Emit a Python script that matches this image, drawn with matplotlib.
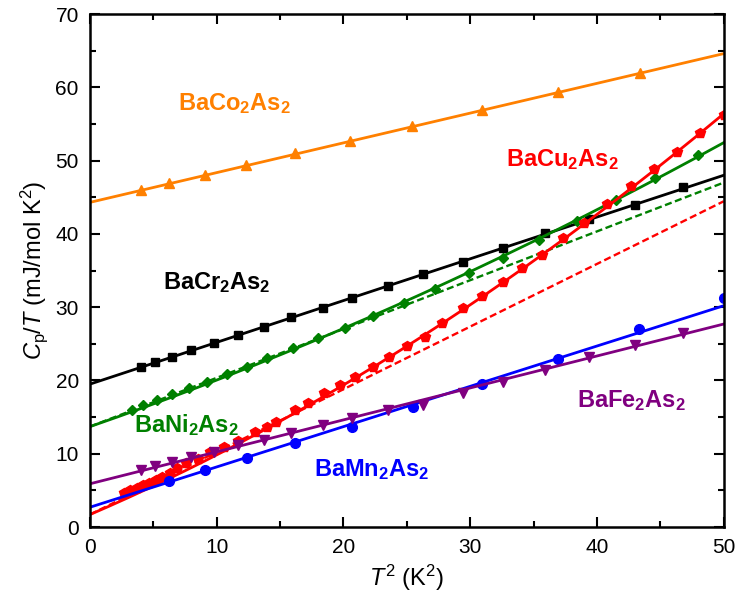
import numpy as np
import matplotlib.pyplot as plt
from matplotlib.ticker import MultipleLocator

plt.rcParams['font.family'] = ['Liberation Sans', 'DejaVu Sans']
plt.rcParams['mathtext.fontset'] = 'custom'
plt.rcParams['mathtext.rm'] = 'Liberation Sans'
plt.rcParams['mathtext.it'] = 'Liberation Sans:italic'
plt.rcParams['mathtext.bf'] = 'Liberation Sans:bold'

# data punten (T^2, Cp/T)
co_x = [4.0, 6.2, 9.1, 12.3, 16.2, 20.5, 25.4, 30.9, 36.9, 43.4]
co_y = [46.0, 47.0, 48.1, 49.4, 51.0, 52.7, 54.7, 56.9, 59.3, 61.9]

cr_x = [4.0, 5.1, 6.5, 8.0, 9.8, 11.7, 13.7, 15.9, 18.4, 20.7, 23.5, 26.3, 29.4, 32.6, 35.9, 39.4, 43.0, 46.8]
cr_y = [21.9, 22.5, 23.2, 24.1, 25.1, 26.2, 27.3, 28.6, 29.9, 31.3, 32.9, 34.5, 36.2, 38.1, 40.1, 42.0, 44.0, 46.4]

ni_x = [3.3, 4.2, 5.3, 6.5, 7.8, 9.2, 10.8, 12.4, 14.0, 16.0, 18.0, 20.1, 22.3, 24.8, 27.2, 29.9, 32.6, 35.4, 38.4, 41.5, 44.6, 48.0]
ni_y = [16.0, 16.7, 17.4, 18.2, 19.0, 19.8, 20.9, 21.9, 23.0, 24.4, 25.8, 27.2, 28.8, 30.6, 32.5, 34.6, 36.7, 39.1, 41.8, 44.6, 47.6, 50.7]

cu_x = [2.7, 3.2, 3.7, 4.2, 4.7, 5.2, 5.7, 6.3, 6.9, 7.6, 8.5, 9.5, 10.6, 11.7, 13.0, 14.0, 14.7, 16.2, 17.2,
        18.5, 19.7, 20.9, 22.3, 23.6, 25.0, 26.4, 27.8, 29.4, 30.9, 32.6, 34.1, 35.7, 37.3, 39.0, 40.8, 42.7,
        44.5, 46.3, 48.1, 50.0]
cu_y = [4.6, 5.0, 5.3, 5.7, 6.0, 6.4, 6.8, 7.4, 8.0, 8.7, 9.3, 10.2, 10.9, 11.7, 13.0, 13.7, 14.3, 16.0, 16.9,
        18.3, 19.4, 20.5, 21.9, 23.2, 24.7, 25.9, 27.8, 29.9, 31.5, 33.4, 35.3, 37.1, 39.4, 41.5, 44.1, 46.5,
        48.8, 51.2, 53.7, 56.2]

mn_x = [6.2, 9.1, 12.4, 16.2, 20.7, 25.5, 30.9, 36.9, 43.3, 50.0]
mn_y = [6.3, 7.8, 9.4, 11.5, 13.6, 16.4, 19.5, 22.9, 27.0, 31.3]

fe_x = [4.0, 5.1, 6.5, 8.0, 9.8, 11.7, 13.7, 15.9, 18.4, 20.7, 23.5, 26.3, 29.4, 32.6, 35.9, 39.4, 43.0, 46.8]
fe_y = [7.8, 8.3, 8.9, 9.5, 10.2, 11.2, 11.9, 12.8, 13.9, 14.9, 16.0, 16.6, 18.3, 19.8, 21.4, 23.2, 24.8, 26.5]

# fit parameters: gamma, beta, delta  (Cp/T = gamma + beta*T^2 + delta*T^4)
co_fit = [44.3, 0.406, 0.0]
cr_fit = [19.5, 0.570, 0.0]
ni_fit = [13.7, 0.600, 0.0035]
ni_lin = [13.7, 0.666, 0.0]
cu_fit = [1.7, 0.744, 0.0070]
cu_lin = [1.7, 0.855, 0.0]
mn_fit = [2.7, 0.550, 0.0]
fe_fit = [5.9, 0.436, 0.0]

c_co = '#ff8000'
c_cr = 'black'
c_ni = '#008000'
c_cu = '#ff0000'
c_mn = '#0000ff'
c_fe = '#800080'

def model(p, x):
    return p[0] + p[1] * x + p[2] * x ** 2

fig = plt.figure(figsize=(7.37, 6.10), dpi=100)
ax = fig.add_axes([0.122, 0.136, 0.860, 0.841])

xx = np.linspace(0, 50, 300)

ax.plot(xx, model(ni_lin, xx), '--', color=c_ni, lw=1.7, dashes=(3, 1.5))
ax.plot(xx, model(cu_lin, xx), '--', color=c_cu, lw=1.7, dashes=(3, 1.5))

# (x, y, fit, kleur, marker, grootte)
series = [
    (co_x, co_y, co_fit, c_co, '^', 6.5),
    (cr_x, cr_y, cr_fit, c_cr, 's', 6),
    (ni_x, ni_y, ni_fit, c_ni, 'D', 5.5),
    (cu_x, cu_y, cu_fit, c_cu, 'p', 7.5),
    (mn_x, mn_y, mn_fit, c_mn, 'o', 7),
    (fe_x, fe_y, fe_fit, c_fe, 'v', 6.5),
]
for x, y, p, c, m, ms in series:
    ax.plot(xx, model(p, xx), '-', color=c, lw=2)
    ax.plot(x, y, m, color=c, ms=ms, mec=c)

# labels
lbl = dict(fontsize=17, fontweight='bold', ha='center', va='center')
ax.text(11.4, 57.8, r'BaCo$_\mathbf{2}$As$_\mathbf{2}$', color=c_co, **lbl)
ax.text(37.3, 50.1, r'BaCu$_\mathbf{2}$As$_\mathbf{2}$', color=c_cu, **lbl)
ax.text(10.0, 33.3, r'BaCr$_\mathbf{2}$As$_\mathbf{2}$', color=c_cr, **lbl)
ax.text(7.6, 13.9, r'BaNi$_\mathbf{2}$As$_\mathbf{2}$', color=c_ni, **lbl)
ax.text(22.2, 7.8, r'BaMn$_\mathbf{2}$As$_\mathbf{2}$', color=c_mn, **lbl)
ax.text(42.7, 17.3, r'BaFe$_\mathbf{2}$As$_\mathbf{2}$', color=c_fe, **lbl)

ax.set_xlim(0, 50)
ax.set_ylim(0, 70)
ax.xaxis.set_major_locator(MultipleLocator(10))
ax.xaxis.set_minor_locator(MultipleLocator(5))
ax.yaxis.set_major_locator(MultipleLocator(10))
ax.yaxis.set_minor_locator(MultipleLocator(5))
ax.tick_params(which='both', direction='in', top=True, right=True, width=1.5, labelsize=15)
ax.tick_params(which='major', length=7, pad=8)
ax.tick_params(which='minor', length=4)
for s in ax.spines.values():
    s.set_linewidth(1.8)

ax.set_xlabel(r'$T^2$ (K$^2$)', fontsize=17)
ax.set_ylabel(r'$C_\mathrm{p}/T$ (mJ/mol K$^2$)', fontsize=17)

fig.savefig('out.png', dpi=100)
